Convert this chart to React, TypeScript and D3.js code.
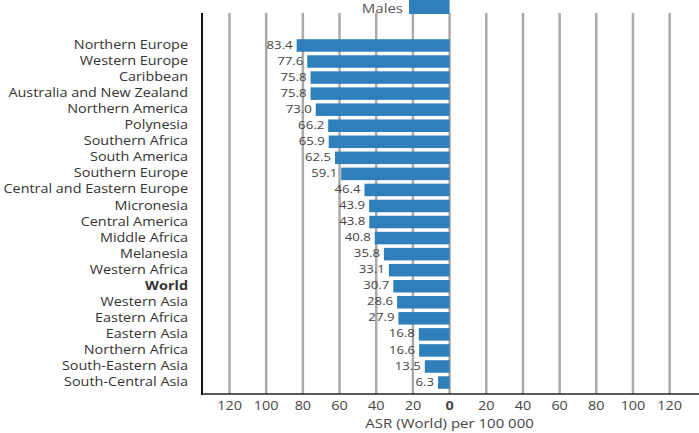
import React from "react";
import * as d3 from "d3";

const categories = [
  "Northern Europe", "Western Europe", "Caribbean", "Australia and New Zealand",
  "Northern America", "Polynesia", "Southern Africa", "South America",
  "Southern Europe", "Central and Eastern Europe", "Micronesia", "Central America",
  "Middle Africa", "Melanesia", "Western Africa", "World", "Western Asia",
  "Eastern Africa", "Eastern Asia", "Northern Africa", "South-Eastern Asia",
  "South-Central Asia",
];
const malesValues = [
  83.4, 77.6, 75.8, 75.8, 73.0, 66.2, 65.9, 62.5, 59.1, 46.4, 43.9, 43.8,
  40.8, 35.8, 33.1, 30.7, 28.6, 27.9, 16.8, 16.6, 13.5, 6.3,
];
const tickValues = [-120, -100, -80, -60, -40, -20, 0, 20, 40, 60, 80, 100, 120];
const legendLabel = "Males";
const xTitle = "ASR (World) per 100 000";

const W = 699, H = 433;
const plotLeft = 202, plotRight = 699, plotTop = 13, plotBottom = 394;
const font = "'Open Sans', 'Noto Sans', sans-serif";
const barColor = "#2f7fba";
const SX = 1.2;

function SText(props: { x: number; y: number; anchor: string; size: number; fill: string; bold?: boolean; children: React.ReactNode }) {
  return (
    <text
      transform={`translate(${props.x},${props.y}) scale(${SX},1)`}
      textAnchor={props.anchor}
      dominantBaseline="central"
      fontSize={props.size}
      fill={props.fill}
      fontWeight={props.bold ? "bold" : "normal"}
    >
      {props.children}
    </text>
  );
}

export default function App() {
  const x = d3.scaleLinear().domain([-135, 136]).range([plotLeft, plotRight]);
  const y = d3.scaleBand<string>().domain(categories).range([36, 392]).paddingInner(0.22).paddingOuter(0.2);
  const x0 = x(0);
  return (
    <svg width={W} height={H} style={{ position: "absolute", left: 0, top: 0, background: "#fff" }} fontFamily={font}>
      {tickValues.map((t) => (
        <line key={"g" + t} x1={x(t)} x2={x(t)} y1={plotTop} y2={plotBottom} stroke="#aaaaaa" strokeWidth={2.5} />
      ))}
      {categories.map((c, i) => {
        const v = malesValues[i];
        const yy = y(c)!;
        const cy = yy + y.bandwidth() / 2 - 1;
        return (
          <g key={c}>
            <rect x={x(-v)} y={yy} width={x0 - x(-v)} height={y.bandwidth()} fill={barColor} />
            <SText x={x(-v) - 4} y={cy} anchor="end" size={11} fill="#444">{v.toFixed(1)}</SText>
            <SText x={188} y={cy} anchor="end" size={12} fill="#333" bold={c === "World"}>{c}</SText>
          </g>
        );
      })}
      <line x1={plotLeft} x2={plotLeft} y1={plotTop} y2={plotBottom + 1} stroke="#111" strokeWidth={2} />
      <line x1={plotLeft} x2={plotRight} y1={plotBottom} y2={plotBottom} stroke="#222" strokeWidth={1.5} />
      {tickValues.map((t) => (
        <SText key={"t" + t} x={x(t)} y={405} anchor="middle" size={12} fill="#444" bold={t === 0}>{Math.abs(t)}</SText>
      ))}
      <SText x={x0} y={423} anchor="middle" size={12.5} fill="#444">{xTitle}</SText>
      <rect x={409} y={0} width={x0 - 409} height={14} fill={barColor} />
      <SText x={403} y={8} anchor="end" size={12.5} fill="#555">{legendLabel}</SText>
    </svg>
  );
}
